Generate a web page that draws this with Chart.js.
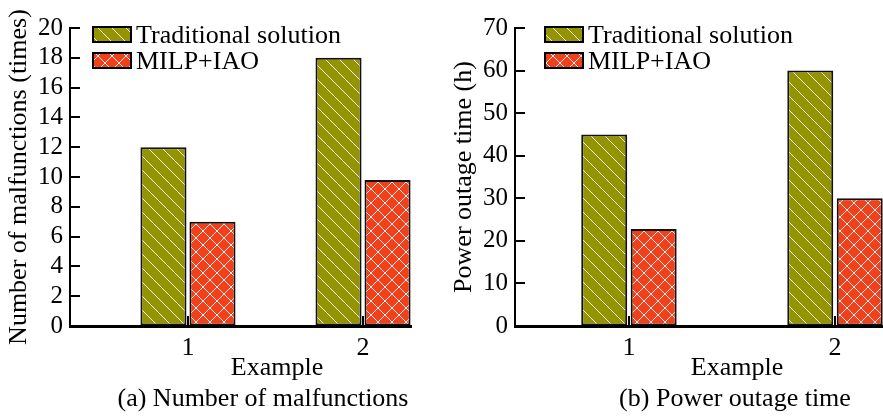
<!DOCTYPE html>
<html>
<head>
<meta charset="utf-8">
<script src="https://cdn.jsdelivr.net/npm/chart.js@4.4.1/dist/chart.umd.min.js"></script>
<style>
  html, body { margin: 0; padding: 0; background: #fff; overflow: hidden; }
  #wrap { position: relative; width: 883px; height: 417px; }
  #faultChart { position: absolute; left: 0; top: 0; }
  #outageChart { position: absolute; left: 441px; top: 0; }
</style>
</head>
<body>
<div id="wrap">
  <canvas id="faultChart" width="441" height="417"></canvas>
  <canvas id="outageChart" width="442" height="417"></canvas>
</div>
<script>
// data
const examples = [1, 2];
const seriesNames = ["Traditional solution", "MILP+IAO"];
const faultTraditional = [12, 18];
const faultMilp = [7, 9.8];
const outageTraditional = [45, 60];
const outageMilp = [22.8, 30];

const SERIF = '"Liberation Serif", "Times New Roman", serif';
const OLIVE = "#949400";
const RED = "#f2401a";
const DOT = "#f6eeee";

// hatch fills like the original figure
function makePattern(base, cross) {
  const n = 14;
  const c = document.createElement("canvas");
  c.width = n;
  c.height = n;
  const g = c.getContext("2d");
  g.fillStyle = base;
  g.fillRect(0, 0, n, n);
  g.fillStyle = DOT;
  for (let i = 0; i < n; i++) {
    g.fillRect(i, i, 1, 1); // "\" direction
    if (cross) g.fillRect(n - 1 - i, i, 1, 1); // "/" direction
  }
  return g.createPattern(c, "repeat");
}

const olivePattern = makePattern(OLIVE, false);
const redPattern = makePattern(RED, true);

// inward ticks, legend box and the texts under the axis
const decorPlugin = {
  id: "decor",
  afterDatasetsDraw: (chart) => {
    const opt = chart.options.plugins.decor;
    const ctx = chart.ctx;
    const ca = chart.chartArea;
    const ys = chart.scales.y;
    const xs = chart.scales.x;

    ctx.save();
    ctx.strokeStyle = "#000";
    ctx.lineWidth = 2;
    ys.ticks.forEach((t) => {
      const py = Math.round(ys.getPixelForValue(t.value));
      ctx.beginPath();
      ctx.moveTo(ca.left, py);
      ctx.lineTo(ca.left + 10, py);
      ctx.stroke();
    });
    xs.ticks.forEach((t) => {
      const px = Math.round(xs.getPixelForValue(t.value));
      ctx.beginPath();
      ctx.moveTo(px, ca.bottom);
      ctx.lineTo(px, ca.bottom - 10);
      ctx.stroke();
    });

    // legend
    ctx.font = "26px " + SERIF;
    ctx.textAlign = "left";
    ctx.textBaseline = "alphabetic";
    chart.data.datasets.forEach((ds, i) => {
      const bx = ca.left + opt.legendX;
      const by = ca.top - 1 + i * 26;
      ctx.fillStyle = ds.backgroundColor;
      ctx.fillRect(bx, by, 38, 15);
      ctx.lineWidth = 2;
      ctx.strokeStyle = "#000";
      ctx.strokeRect(bx, by, 38, 15);
      ctx.fillStyle = "#000";
      ctx.fillText(ds.label, bx + 43, by + 16);
    });

    // x title + caption
    ctx.textAlign = "center";
    ctx.fillText("Example", ca.left + opt.exampleX, chart.height - 42);
    ctx.fillText(opt.caption, ca.left + opt.captionX, chart.height - 11);
    ctx.restore();
  },
};

Chart.register(decorPlugin);

function buildChart(id, tradData, milpData, opts) {
  const datasets = [
    { label: seriesNames[0], data: examples.map((x, i) => ({ x: x, y: tradData[i] })), backgroundColor: olivePattern },
    { label: seriesNames[1], data: examples.map((x, i) => ({ x: x, y: milpData[i] })), backgroundColor: redPattern },
  ];
  datasets.forEach((ds) => {
    ds.borderColor = "#111";
    ds.borderWidth = 2;
    ds.borderSkipped = false;
    ds.categoryPercentage = opts.catPct;
    ds.barPercentage = opts.barPct;
  });

  return new Chart(document.getElementById(id), {
    type: "bar",
    data: { datasets: datasets },
    options: {
      responsive: false,
      animation: false,
      layout: { padding: opts.padding },
      plugins: {
        legend: { display: false },
        tooltip: { enabled: false },
        decor: {
          legendX: opts.legendX,
          exampleX: opts.exampleX,
          captionX: opts.captionX,
          caption: opts.caption,
        },
      },
      scales: {
        x: {
          type: "linear",
          offset: false,
          min: opts.xMin,
          max: opts.xMax,
          afterBuildTicks: (s) => {
            s.ticks = examples.map((v) => ({ value: v }));
          },
          afterFit: (s) => {
            s.height = 91;
          },
          ticks: {
            font: { family: SERIF, size: 26 },
            color: "#000",
            padding: 7,
          },
          grid: { offset: false, drawOnChartArea: false, drawTicks: false },
          border: { color: "#000", width: 3 },
        },
        y: {
          min: 0,
          max: opts.yMax,
          afterFit: (s) => {
            s.width = 70;
          },
          ticks: {
            stepSize: opts.yStep,
            autoSkip: false,
            font: { family: SERIF, size: 25 },
            color: "#000",
            padding: 7,
          },
          title: {
            display: true,
            text: opts.yTitle,
            font: { family: SERIF, size: 26 },
            color: "#000",
            padding: { top: 4, bottom: 4 },
          },
          grid: { drawOnChartArea: false, drawTicks: false },
          border: { color: "#000", width: 2 },
        },
      },
    },
  });
}

buildChart("faultChart", faultTraditional, faultMilp, {
  padding: { top: 28, right: 30, bottom: 0, left: 0 },
  xMin: 0.326,
  xMax: 2.274,
  yMax: 20,
  yStep: 2,
  yTitle: "Number of malfunctions (times)",
  catPct: 0.56,
  barPct: 0.94,
  legendX: 23,
  exampleX: 207,
  captionX: 193,
  caption: "(a) Number of malfunctions",
});

buildChart("outageChart", outageTraditional, outageMilp, {
  padding: { top: 28, right: 0, bottom: 0, left: 4 },
  xMin: 0.447,
  xMax: 2.233,
  yMax: 70,
  yStep: 10,
  yTitle: "Power outage time (h)",
  catPct: 0.48,
  barPct: 0.93,
  legendX: 30,
  exampleX: 222,
  captionX: 220,
  caption: "(b) Power outage time",
});
</script>
</body>
</html>
